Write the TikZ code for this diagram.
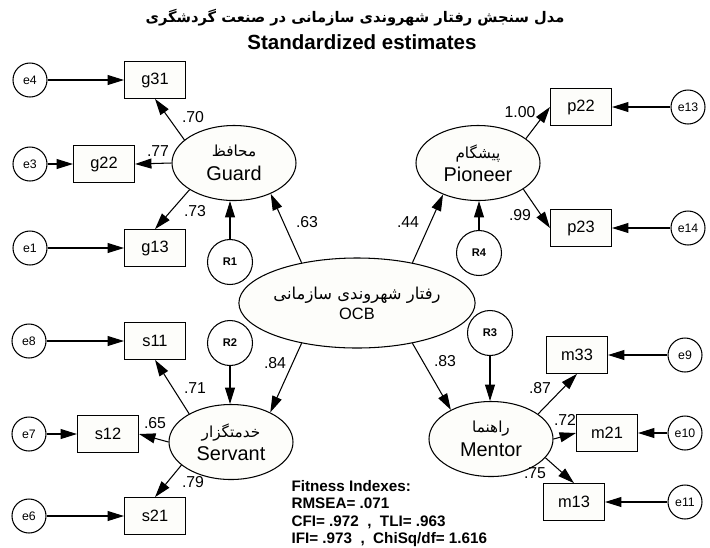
\documentclass[tikz,border=0pt]{standalone}
\usepackage{fontspec}
\setmainfont{Liberation Sans}
\newfontfamily\fa[Script=Arabic]{DejaVu Sans}
\TeXXeTstate=1
\usetikzlibrary{arrows.meta}
\usetikzlibrary{shapes}
\definecolor{paper}{RGB}{253,253,250}

\begin{document}
\begin{tikzpicture}[
    x=0.03cm, y=-0.03cm,
    line width=0.9pt,
    font=\fontsize{14}{16}\selectfont
]
\tikzset{
    latent/.style = {ellipse, draw=black, fill=paper, align=center,
        minimum width=3.72cm, minimum height=2.25cm, inner sep=0pt},
    obs/.style = {rectangle, draw=black, fill=paper,
        minimum width=1.83cm, minimum height=1.1cm},
    err/.style = {circle, draw=black, fill=white, minimum size=1.02cm, inner sep=1pt,
        font=\fontsize{10.5}{12}\selectfont},
    res/.style = {circle, draw=black, fill=white, minimum size=1.35cm, inner sep=0pt,
        font=\fontsize{9.5}{11}\selectfont\bfseries},
    lbl/.style = {font=\fontsize{13.5}{15}\selectfont, inner sep=0pt},
    arr/.style = {-{Triangle[length=14pt,width=8.5pt]}}
}
\useasboundingbox (0,0) rectangle (710,547);

% title
\node[font=\fa\bfseries\fontsize{12.5}{15}\selectfont] at (355,18) (title) {\beginR مدل سنجش رفتار شهروندی سازمانی در صنعت گردشگری\endR};
\node[font=\bfseries\fontsize{17.5}{19}\selectfont] at (362,42) (subtitle) {Standardized estimates};

% latent variables
\node[latent, minimum width=4.41cm, minimum height=2.7cm] at (357,303) (ocb)
    {{\fa\fontsize{14}{16}\selectfont\beginR رفتار شهروندی سازمانی\endR}\\[1pt]OCB};
\node[latent, font=\fontsize{17}{20}\selectfont] at (234,163) (guard)
    {{\fa\fontsize{13}{15}\selectfont\beginR محافظ\endR}\\Guard};
\node[latent, font=\fontsize{17}{20}\selectfont] at (478,163) (pioneer)
    {{\fa\fontsize{13}{15}\selectfont\beginR پیشگام\endR}\\Pioneer};
\node[latent, font=\fontsize{17}{20}\selectfont] at (231,442) (servant)
    {{\fa\fontsize{13}{15}\selectfont\beginR خدمتگزار\endR}\\Servant};
\node[latent, font=\fontsize{17}{20}\selectfont] at (491,439) (mentor)
    {{\fa\fontsize{13}{15}\selectfont\beginR راهنما\endR}\\Mentor};

% residuals
\node[res] at (230,262) (r1) {R1};
\node[res] at (230,343) (r2) {R2};
\node[res] at (490,333) (r3) {R3};
\node[res] at (479,253) (r4) {R4};

% observed variables
\node[obs] at (155,80) (g31) {g31};
\node[obs] at (104,164) (g22) {g22};
\node[obs] at (155,248) (g13) {g13};
\node[obs] at (155,341) (s11) {s11};
\node[obs] at (108,434) (s12) {s12};
\node[obs] at (155,516) (s21) {s21};
\node[obs] at (581,107) (p22) {p22};
\node[obs] at (581,228) (p23) {p23};
\node[obs] at (577,355) (m33) {m33};
\node[obs] at (607,433) (m21) {m21};
\node[obs] at (574,502) (m13) {m13};

% errors
\node[err] at (30,80) (e4) {e4};
\node[err] at (30,164) (e3) {e3};
\node[err] at (30,248) (e1) {e1};
\node[err] at (29,341) (e8) {e8};
\node[err] at (29,434) (e7) {e7};
\node[err] at (29,516) (e6) {e6};
\node[err] at (688,107) (e13) {e13};
\node[err] at (688,228) (e14) {e14};
\node[err] at (685,355) (e9) {e9};
\node[err] at (685,433) (e10) {e10};
\node[err] at (685,502) (e11) {e11};

% structural paths
\draw[arr] (ocb.144) -- (guard.-40);
\draw[arr] (ocb.36) -- (pioneer.222);
\draw[arr] (ocb.216) -- (servant.37);
\draw[arr] (ocb.-36) -- (mentor.144);
\draw[arr] (r1.north) -- (r1.north |- guard.south);
\draw[arr] (r2.south) -- (r2.south |- servant.north);
\draw[arr] (r3.south) -- (r3.south |- mentor.north);
\draw[arr] (r4.north) -- (r4.north |- pioneer.south);

% loadings
\draw[arr] (guard.155) -- (g31.south);
\draw[arr] (guard.west) -- (g22.east);
\draw[arr] (guard.211) -- (g13.north);
\draw[arr] (servant.146) -- (s11.south);
\draw[arr] (servant.west) -- (s12.east);
\draw[arr] (servant.205) -- (s21.north);
\draw[arr] (pioneer.27) -- (p22.west);
\draw[arr] (pioneer.-30) -- (p23.west);
\draw[arr] (mentor.28) -- (m33.south);
\draw[arr] (mentor.east) -- (m21.west);
\draw[arr] (mentor.-19) -- (m13.north);

% error paths
\draw[arr] (e4) -- (g31);
\draw[arr] (e3) -- (g22);
\draw[arr] (e1) -- (g13);
\draw[arr] (e8) -- (s11);
\draw[arr] (e7) -- (s12);
\draw[arr] (e6) -- (s21);
\draw[arr] (e13) -- (p22);
\draw[arr] (e14) -- (p23);
\draw[arr] (e9) -- (m33);
\draw[arr] (e10) -- (m21);
\draw[arr] (e11) -- (m13);

% estimates
\node[lbl] at (307,222) (l63) {.63};
\node[lbl] at (408,222) (l44) {.44};
\node[lbl] at (275,363) (l84) {.84};
\node[lbl] at (445,361) (l83) {.83};
\node[lbl] at (193,117) (l70) {.70};
\node[lbl] at (158,151) (l77) {.77};
\node[lbl] at (195,211) (l73) {.73};
\node[lbl] at (195,388) (l71) {.71};
\node[lbl] at (155,423) (l65) {.65};
\node[lbl] at (193,482) (l79) {.79};
\node[lbl] at (520,112) (l100) {1.00};
\node[lbl] at (520,215) (l99) {.99};
\node[lbl] at (540,388) (l87) {.87};
\node[lbl] at (565,420) (l72) {.72};
\node[lbl] at (535,473) (l75) {.75};

% fit
\node[anchor=north west, align=left, inner sep=0pt,
    font=\bfseries\fontsize{13}{14.8}\selectfont] at (291,480) (fit)
    {Fitness Indexes:\\RMSEA= .071\\CFI= .972 \ , \ TLI= .963\\IFI= .973 \ , \ ChiSq/df= 1.616};
\end{tikzpicture}
\end{document}
